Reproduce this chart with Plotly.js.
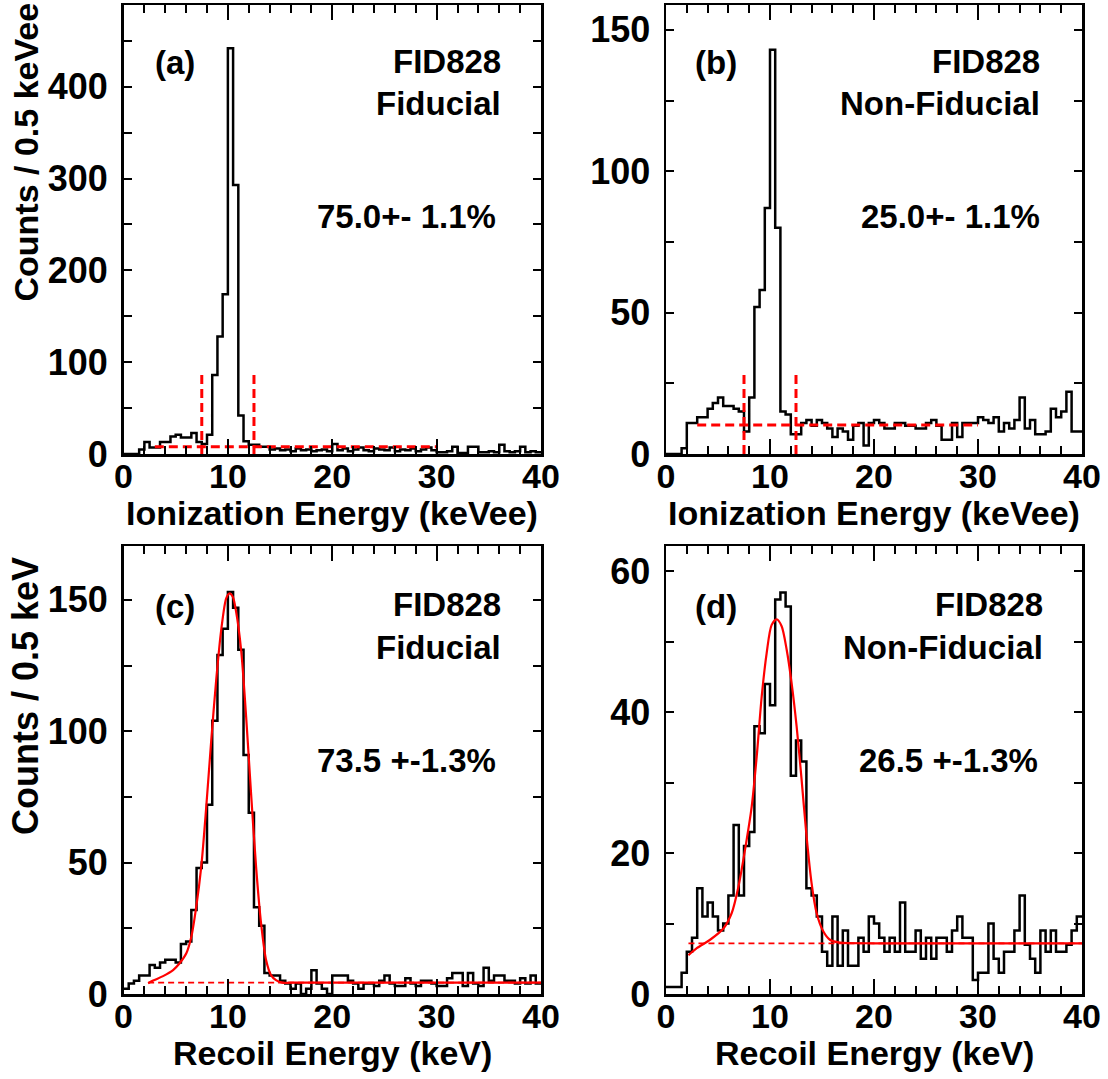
<!DOCTYPE html>
<html><head><meta charset="utf-8">
<script src="https://cdn.plot.ly/plotly-3.0.1.min.js"></script>
<style>html,body{margin:0;padding:0;background:#fff;} #chart{width:1108px;height:1079px;}</style>
</head><body><div id="chart"></div>
<script>
// ---------- data (bins of 0.5 keV starting at 0) ----------
const binStart = 0;
const binWidth = 0.5;
const countsA = [0,0,0,5,13,7,7,13,13,19, 21,18,18,23,13,11,21,86,128,174,
  442,293,42,14,10,10,8,8,5,6, 4,5,3,6,4,5,3,4,5,3,
  11,4,6,3,5,7,4,3,6,5, 4,7,3,5,4,6,3,5,7,4,
  2,2,3,8,1,1,8,8,2,2, 3,2,10,3,2,3,8,2,3,2];
const countsB = [0,0,0,2,11,11,13,13,16,18, 20,17,17,16,15,8,20,52,58,87,
  143,80,15,14,7,7,11,12,10,12, 11,9,6,9,8,5,10,11,3,11,
  12,11,9,9,11,11,10,10,9,9, 11,12,10,5,5,11,6,11,11,11,
  13,12,11,13,8,11,9,12,20,9, 12,7,7,8,16,13,15,22,8,8];
const countsC = [2,4,5,7,7,11,10,12,13,13, 12,19,20,32,48,50,72,104,129,139,
  153,147,131,91,69,33,26,8,7,7, 5,4,2,4,0,2,9,4,2,0,
  7,7,7,5,4,2,4,4,3,5, 7,4,3,3,6,4,3,5,5,4,
  3,3,6,8,8,3,8,4,3,10, 5,7,7,5,5,4,6,4,7,4];
const countsD = [1,1,1,3,6,8,15,11,13,11, 9,10,14,24,14,21,23,38,37,44,
  41,56,57,55,31,36,33,15,14,11, 6,4,11,4,9,4,4,8,6,11,
  10,8,6,8,6,13,6,6,9,5, 8,5,8,8,6,9,11,8,8,2,
  3,3,10,5,3,6,6,9,14,7, 5,3,9,6,9,6,6,7,9,11];

// selection cuts and flat background (panels a, b)
const cutLow = 7.5, cutHigh = 12.5;
const cutTopA = 88, cutTopB = 29;
const bkgRange = [3, 30];
const bkgA = 8, bkgB = 10.3;

const fitCx = [2.36,2.84,3.79,4.75,5.38,6.02,6.5,6.97,7.45,7.93,8.41,8.88,9.36,9.84,10.16,10.47,10.79,11.27,11.75,12.22,12.7,13.18,13.66,14.13,14.61,15.2,16,20,30,40];
const fitCy = [4.1,5.1,6.8,9.1,11.7,15.5,21.8,33.2,48.5,71.3,96.7,119.5,138.5,150.6,152.5,151.2,145.5,130.9,105.5,76.4,48.5,26.9,12.9,7.2,5.3,4.3,4.3,4.3,4.3,4.3];
const fitDx = [2.16,2.96,4.24,5.52,6.32,6.96,7.6,8.24,8.72,9.2,9.68,10.16,10.64,11.12,11.6,12.08,12.56,13.04,13.52,14.0,14.48,15.12,15.76,16.72,20,30,40];
const fitDy = [5.5,6.5,7.7,9.3,11.5,15.2,20.5,26.6,33.7,42.2,48.4,52.4,53.2,52.2,48.9,44.1,38.0,30.4,22.3,15.7,11.5,8.9,7.7,7.3,7.2,7.2,7.2];
const bkgCx = [2.36, 40], bkgC = 4.3;
const bkgDx = [2.16, 40], bkgD = 7.2;

const xTitleTop = 'Ionization Energy (keVee)';
const xTitleBot = 'Recoil Energy (keV)';
const yTitleTop = 'Counts / 0.5 keVee';
const yTitleBot = 'Counts / 0.5 keV';
const panelLabels = ['(a)','(b)','(c)','(d)'];
const detName = 'FID828';
const regionNames = ['Fiducial','Non-Fiducial','Fiducial','Non-Fiducial'];
const fractions = ['75.0+- 1.1%','25.0+- 1.1%','73.5 +-1.3%','26.5 +-1.3%'];

// ---------- build ----------
const FONT = '"Liberation Sans", Arial, Helvetica, sans-serif';
const RED = '#ff0000';

function stepTrace(counts, xa, ya){
  const x = [], y = [];
  for (let i = 0; i <= counts.length; i++){
    x.push(binStart + i*binWidth);
    y.push(counts[Math.min(i, counts.length-1)]);
  }
  return {x, y, xaxis: xa, yaxis: ya, type:'scatter', mode:'lines',
    line:{shape:'hv', color:'#000', width:2.5}, hoverinfo:'skip', showlegend:false};
}
function seg(x, y, xa, ya, dash, width){
  return {x, y, xaxis: xa, yaxis: ya, type:'scatter', mode:'lines',
    line:{color:RED, width:width, dash:dash}, hoverinfo:'skip', showlegend:false};
}
function fit(x, y, xa, ya){
  return {x, y, xaxis: xa, yaxis: ya, type:'scatter', mode:'lines',
    line:{color:RED, width:2.2, shape:'spline', smoothing:0.8}, hoverinfo:'skip', showlegend:false};
}

const DASH1 = '9px,5px';
const traces = [
  stepTrace(countsA,'x','y'),
  seg(bkgRange,[bkgA,bkgA],'x','y',DASH1,3),
  seg([cutLow,cutLow],[0,cutTopA],'x','y',DASH1,3),
  seg([cutHigh,cutHigh],[0,cutTopA],'x','y',DASH1,3),
  stepTrace(countsB,'x2','y2'),
  seg(bkgRange,[bkgB,bkgB],'x2','y2',DASH1,3),
  seg([cutLow,cutLow],[0,cutTopB],'x2','y2',DASH1,3),
  seg([cutHigh,cutHigh],[0,cutTopB],'x2','y2',DASH1,3),
  stepTrace(countsC,'x3','y3'),
  seg(bkgCx,[bkgC,bkgC],'x3','y3','6px,4px',1.8),
  fit(fitCx,fitCy,'x3','y3'),
  stepTrace(countsD,'x4','y4'),
  seg(bkgDx,[bkgD,bkgD],'x4','y4','6px,4px',1.8),
  fit(fitDx,fitDy,'x4','y4')
];

const W = 1108, H = 1079;
const colX = [[123.5,541],[666,1082]];
const rowY = [[5,454],[546,994]];
function dx(c){ return [colX[c][0]/W, colX[c][1]/W]; }
function dy(r){ return [1-rowY[r][1]/H, 1-rowY[r][0]/H]; }

const xTickFont = {family:FONT, size:34, color:'#000', weight:'bold'};
const yTickFont = {family:FONT, size:36, color:'#000', weight:'bold'};
function xax(c, r, anchor){
  return {domain:dx(c), anchor, range:[0,40], tick0:0, dtick:10, ticks:'inside', ticklen:15, tickwidth:2,
    tickcolor:'#000', showline:true, linewidth:2.5, linecolor:'#000', mirror:'ticks',
    showgrid:false, zeroline:false, tickfont:xTickFont, ticklabelstandoff:-9,
    minor:{dtick:2, ticklen:8, tickwidth:2, tickcolor:'#000', ticks:'inside', showgrid:false},
    fixedrange:true};
}
function yax(r, anchor, top, dt){
  return {domain:dy(r), anchor, range:[0,top], tick0:0, dtick:dt, ticks:'inside', ticklen:8, tickwidth:2,
    tickcolor:'#000', showline:true, linewidth:2.5, linecolor:'#000', mirror:'ticks',
    showgrid:false, zeroline:false, tickfont:yTickFont, ticklabelstandoff:6,
    minor:{dtick:dt/2, ticklen:8, tickwidth:2, tickcolor:'#000', ticks:'inside', showgrid:false},
    fixedrange:true};
}

const annFont = {family:FONT, size:33, color:'#000', weight:'bold'};
const anns = [];
const axNames = [['x','y'],['x2','y2'],['x3','y3'],['x4','y4']];
const labelPos = [
  {lx:0.071, ly:0.873, fx:0.909, fy:0.875, ry:0.78, px:0.897, py:0.53},
  {lx:0.065, ly:0.873, fx:0.904, fy:0.875, ry:0.78, px:0.904, py:0.53},
  {lx:0.071, ly:0.866, fx:0.909, fy:0.87, ry:0.773, px:0.897, py:0.522},
  {lx:0.065, ly:0.866, fx:0.911, fy:0.87, ry:0.773, px:0.899, py:0.522}
];
for (let i = 0; i < 4; i++){
  const [xa, ya] = axNames[i];
  const p = labelPos[i];
  const base = {xref: xa+' domain', yref: ya+' domain', showarrow:false, font:annFont, yanchor:'middle'};
  anns.push(Object.assign({}, base, {text:panelLabels[i], x:p.lx, y:p.ly, xanchor:'left'}));
  anns.push(Object.assign({}, base, {text:detName, x:p.fx, y:p.fy, xanchor:'right'}));
  anns.push(Object.assign({}, base, {text:regionNames[i], x:p.fx, y:p.ry, xanchor:'right'}));
  anns.push(Object.assign({}, base, {text:fractions[i], x:p.px, y:p.py, xanchor:'right'}));
}
// axis titles
const titleFont = {family:FONT, size:34, color:'#000', weight:'bold'};
const yTitleFontTop = {family:FONT, size:34, color:'#000', weight:'bold'};
const yTitleFontBot = {family:FONT, size:36, color:'#000', weight:'bold'};
anns.push({xref:'x domain', yref:'paper', x:0.5, y:1-513/H, text:xTitleTop, showarrow:false, font:titleFont, xanchor:'center', yanchor:'middle'});
anns.push({xref:'x2 domain', yref:'paper', x:0.5, y:1-513/H, text:xTitleTop, showarrow:false, font:titleFont, xanchor:'center', yanchor:'middle'});
anns.push({xref:'x3 domain', yref:'paper', x:0.5, y:1-1053/H, text:xTitleBot, showarrow:false, font:titleFont, xanchor:'center', yanchor:'middle'});
anns.push({xref:'x4 domain', yref:'paper', x:0.5, y:1-1053/H, text:xTitleBot, showarrow:false, font:titleFont, xanchor:'center', yanchor:'middle'});
anns.push({xref:'paper', yref:'paper', x:25/W, y:1-1/H, text:yTitleTop, textangle:-90, showarrow:false, font:yTitleFontTop, xanchor:'center', yanchor:'top'});
anns.push({xref:'paper', yref:'paper', x:25/W, y:1-837/H, text:yTitleBot, textangle:-90, showarrow:false, font:yTitleFontBot, xanchor:'center', yanchor:'bottom'});

const layout = {
  width:W, height:H, margin:{l:0,r:0,t:0,b:0}, paper_bgcolor:'#fff', plot_bgcolor:'#fff',
  showlegend:false, font:{family:FONT, color:'#000'},
  xaxis: xax(0,0,'y'), yaxis: yax(0,'x',489,100),
  xaxis2: xax(1,0,'y2'), yaxis2: yax(0,'x2',158.8,50),
  xaxis3: xax(0,1,'y3'), yaxis3: yax(1,'x3',170.5,50),
  xaxis4: xax(1,1,'y4'), yaxis4: yax(1,'x4',63.6,20),
  annotations: anns
};
Plotly.newPlot('chart', traces, layout, {staticPlot:true, displayModeBar:false});
</script>
</body></html>
